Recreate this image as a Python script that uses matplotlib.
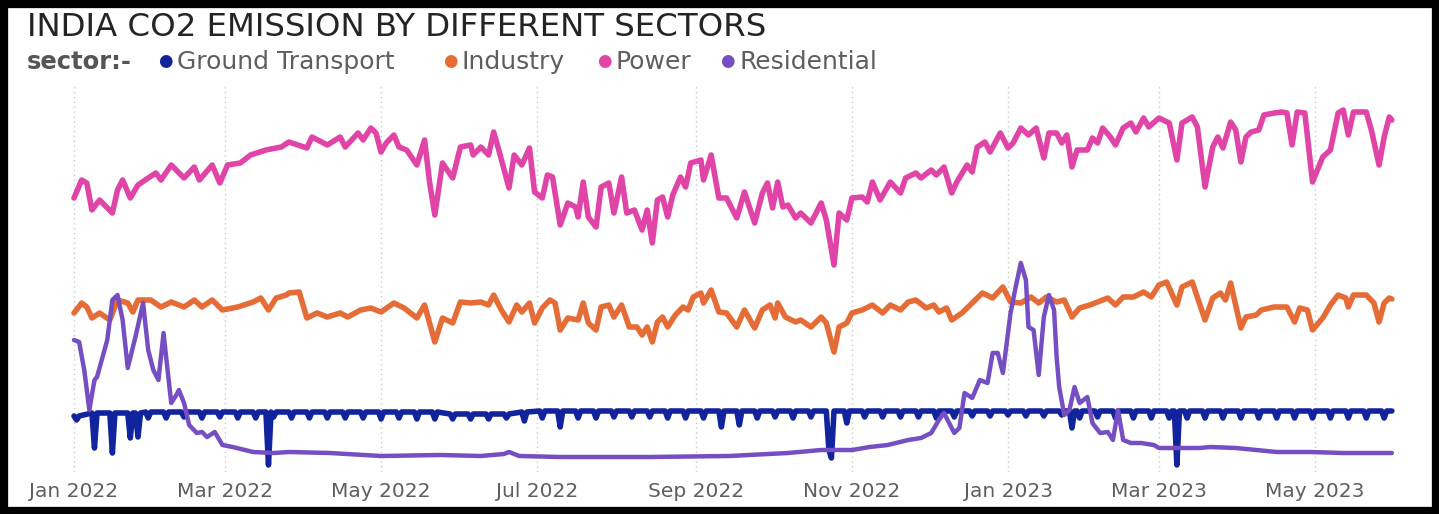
import numpy as np
import pandas as pd
import matplotlib
matplotlib.use("Agg")
import matplotlib.pyplot as plt
import matplotlib.dates as mdates
from matplotlib.patches import Rectangle

# ── Data (MtCO2 per day) ──────────────────────────────────────────────────
# days are offsets from 1 Jan 2022
START = pd.Timestamp("2022-01-01")

power_day = [0, 3, 5, 7, 10, 15, 17, 19, 22, 25, 29, 32, 34, 38, 43, 47, 49, 54, 57, 60, 65, 69, 75,
             81, 84, 91, 93, 99, 104, 106, 111, 113, 116, 118, 120, 122, 125, 127, 130, 134, 137, 139,
             141, 144, 148, 151, 155, 156, 159, 162, 164, 166, 170,
             172, 175, 178, 180, 183, 185, 187, 190, 193, 196, 197, 199, 201, 204, 206, 209, 211, 214,
             216, 219, 222, 224, 226, 228, 230, 232, 234, 237, 239, 241, 245, 246, 249, 252,
             255, 259, 262, 266, 269, 271, 273, 275, 277, 279, 282, 284, 288, 292, 294, 297, 299, 302,
             304, 308, 310, 312, 315, 319, 323, 325, 329, 331, 335, 337, 340,
             343, 345, 349, 351, 353, 356, 358, 362, 365, 367, 370, 373, 376, 379, 381, 384, 386, 388,
             390, 392, 396, 398, 400, 402, 405, 407, 410, 413, 415, 418, 420, 424,
             428, 431, 433, 437, 439, 442, 445, 447, 449, 452, 454, 456, 458, 460, 463, 465, 469, 472,
             474, 476, 478, 481, 484, 488, 491, 494, 496, 498, 500, 505, 507, 510, 512, 514, 515]
power = [2.82, 3.00, 2.97, 2.70, 2.80, 2.67, 2.90, 3.00, 2.82, 2.95, 3.02, 3.07, 3.00, 3.15, 3.02, 3.13,
         3.00, 3.15, 2.97, 3.15, 3.17, 3.25, 3.30,
         3.33, 3.38, 3.32, 3.43, 3.35, 3.43, 3.33, 3.47, 3.40, 3.52, 3.47, 3.28, 3.37, 3.45, 3.33, 3.30,
         3.15, 3.40, 2.97, 2.65, 3.17, 3.02, 3.33, 3.35, 3.25, 3.33, 3.25, 3.48, 3.30, 2.92,
         3.25, 3.15, 3.32, 2.88, 2.82, 3.05, 3.03, 2.55, 2.77, 2.73, 2.63, 2.98, 2.63, 2.53, 2.93, 2.97,
         2.67, 3.03, 2.67, 2.70, 2.50, 2.70, 2.37, 2.80, 2.83, 2.63, 2.85, 3.03, 2.93, 3.17, 3.20, 3.00,
         3.25, 2.82,
         2.82, 2.62, 2.88, 2.57, 2.87, 2.97, 2.72, 2.98, 2.73, 2.75, 2.62, 2.67, 2.57, 2.77, 2.60, 2.15,
         2.67, 2.60, 2.82, 2.83, 2.78, 2.98, 2.80, 2.98, 2.87, 3.02, 3.07, 3.02, 3.10, 3.05, 3.13,
         2.87, 2.98, 3.15, 3.08, 3.33, 3.38, 3.28, 3.47, 3.32, 3.37, 3.52, 3.45, 3.52, 3.22, 3.47, 3.47,
         3.37, 3.45, 3.13, 3.30, 3.30, 3.42, 3.37, 3.52, 3.43, 3.35, 3.52, 3.57, 3.48, 3.62, 3.53, 3.62,
         3.57, 3.20, 3.57, 3.63, 3.53, 2.93, 3.33, 3.43, 3.32, 3.58, 3.50, 3.18, 3.43, 3.48, 3.50, 3.65,
         3.67, 3.68, 3.67, 3.35, 3.68, 3.67, 2.98, 3.23, 3.30, 3.67, 3.70, 3.45, 3.68, 3.68, 3.50, 3.15,
         3.43, 3.63, 3.60]

industry_day = [0, 3, 5, 7, 10, 14, 17, 21, 23, 25, 30, 34, 38, 43, 47, 50, 54, 58, 64, 70, 73, 76, 79, 83,
                84, 88, 91, 95, 99, 104, 107, 112, 116, 120, 125, 129, 134, 137, 141, 144, 148, 151, 155,
                159, 162, 164, 167, 170,
                173, 175, 178, 180, 183, 186, 188, 190, 193, 197, 199, 201, 204, 206, 209, 211, 214, 217,
                220, 222, 224, 226, 228, 230, 232, 235, 238, 240, 242, 245, 246, 249, 252,
                255, 259, 262, 266, 269, 272, 274, 275, 278, 282, 284, 288, 292, 294, 297, 299, 302, 304,
                308, 312, 316, 319, 323, 326, 329, 333, 336, 338,
                341, 343, 347, 351, 355, 359, 363, 366, 370, 374, 377, 380, 384, 387, 390, 393, 397, 400,
                404, 407, 410, 414, 418, 421, 424,
                427, 431, 433, 437, 442, 445, 448, 450, 452, 456, 458, 462, 464, 469, 474, 477, 479, 482,
                484, 488, 491, 494, 497, 498, 500, 505, 508, 510, 512, 514, 515]
industry = [1.67, 1.77, 1.73, 1.62, 1.67, 1.60, 1.80, 1.77, 1.68, 1.80, 1.80, 1.73, 1.78, 1.73, 1.80, 1.73,
            1.80, 1.70, 1.73, 1.78, 1.82, 1.70, 1.82, 1.85,
            1.87, 1.88, 1.62, 1.67, 1.63, 1.67, 1.63, 1.70, 1.72, 1.68, 1.77, 1.72, 1.62, 1.75, 1.38, 1.62,
            1.57, 1.78, 1.77, 1.78, 1.75, 1.85, 1.70, 1.58,
            1.75, 1.68, 1.77, 1.57, 1.72, 1.80, 1.77, 1.50, 1.62, 1.60, 1.77, 1.57, 1.50, 1.73, 1.75, 1.63,
            1.75, 1.53, 1.53, 1.45, 1.53, 1.38, 1.58, 1.63, 1.53, 1.65, 1.73, 1.70, 1.83, 1.87, 1.77, 1.90,
            1.68,
            1.67, 1.53, 1.70, 1.52, 1.70, 1.75, 1.62, 1.77, 1.63, 1.58, 1.60, 1.53, 1.63, 1.57, 1.28, 1.53,
            1.57, 1.67, 1.70, 1.75, 1.67, 1.75, 1.70, 1.78, 1.80, 1.72, 1.75, 1.68,
            1.72, 1.60, 1.67, 1.77, 1.87, 1.82, 1.93, 1.78, 1.77, 1.83, 1.77, 1.83, 1.78, 1.80, 1.63, 1.72,
            1.75, 1.78, 1.82, 1.75, 1.83, 1.83, 1.88, 1.83, 1.95,
            1.98, 1.75, 1.93, 1.98, 1.60, 1.82, 1.87, 1.80, 1.97, 1.52, 1.63, 1.65, 1.70, 1.73, 1.73, 1.58,
            1.72, 1.70, 1.50, 1.62, 1.75, 1.85, 1.82, 1.73, 1.85, 1.85, 1.77, 1.58, 1.77, 1.82, 1.81]

residential_day = [0, 2, 4, 6, 8, 9, 13, 15, 17, 19, 21, 24, 27, 29, 31, 33, 35, 36, 38, 40, 41, 43, 45,
                   48, 50, 52, 55, 58, 62, 70, 78, 84,
                   100, 120, 143, 159, 168, 170, 174, 190, 225, 256, 279, 292, 304, 311, 318, 326, 331, 335,
                   338, 340, 342, 344, 346, 348, 351, 354, 357, 359, 361, 363, 366, 368, 370, 372, 373, 375,
                   377, 379, 381, 383, 384, 385, 387, 389, 391, 393, 396, 398, 401, 404, 406, 408, 410, 413,
                   417, 422, 424,
                   440, 444, 454, 470, 483, 496, 515]
residential = [1.40, 1.38, 1.10, 0.70, 1.00, 1.03, 1.40, 1.80, 1.85, 1.60, 1.12, 1.43, 1.77, 1.30, 1.10,
               1.00, 1.47, 1.23, 0.77, 0.85, 0.90, 0.77, 0.55, 0.47, 0.48, 0.43, 0.48, 0.35, 0.33, 0.28,
               0.27, 0.28,
               0.27, 0.24, 0.25, 0.24, 0.26, 0.28, 0.24, 0.23, 0.23, 0.24, 0.27, 0.30, 0.30, 0.33, 0.35,
               0.40, 0.42, 0.47,
               0.60, 0.67, 0.57, 0.47, 0.52, 0.87, 0.82, 1.00, 0.97, 1.27, 1.27, 1.07, 1.67, 1.93, 2.17,
               2.00, 1.53, 1.50, 1.05, 1.63, 1.85, 1.70, 1.23, 0.93, 0.65, 0.70, 0.93, 0.77, 0.83, 0.57,
               0.47, 0.48, 0.40, 0.70, 0.40, 0.37, 0.37, 0.35, 0.32,
               0.32, 0.33, 0.32, 0.28, 0.28, 0.27, 0.27]

# ground transport: weekday level and Sunday value for each of the 74 weeks
transport_weekday = [0.64, 0.67, 0.67, 0.67, 0.68, 0.68, 0.68, 0.68, 0.68, 0.68,
                     0.68, 0.68, 0.68, 0.68, 0.68, 0.68, 0.68, 0.68, 0.68, 0.68,
                     0.68, 0.66, 0.66, 0.66, 0.66, 0.68, 0.69, 0.69, 0.69, 0.69,
                     0.69, 0.69, 0.69, 0.69, 0.69, 0.69, 0.69, 0.69, 0.69, 0.69,
                     0.69, 0.69, 0.69, 0.69, 0.69, 0.69, 0.69, 0.69, 0.69, 0.69,
                     0.69, 0.69, 0.69, 0.69, 0.69, 0.69, 0.69, 0.69, 0.69, 0.69,
                     0.69, 0.69, 0.69, 0.69, 0.69, 0.69, 0.69, 0.69, 0.69, 0.69,
                     0.69, 0.69, 0.69, 0.69]
transport_sunday = [0.60, 0.32, 0.27, 0.42, 0.62, 0.62, 0.63, 0.62, 0.63, 0.62,
                    0.62, 0.63, 0.62, 0.62, 0.62, 0.62, 0.62, 0.61, 0.62, 0.61,
                    0.61, 0.61, 0.61, 0.61, 0.62, 0.59, 0.62, 0.53, 0.62, 0.62,
                    0.63, 0.63, 0.63, 0.62, 0.62, 0.62, 0.53, 0.55, 0.62, 0.63,
                    0.62, 0.63, 0.30, 0.57, 0.63, 0.63, 0.63, 0.63, 0.62, 0.63,
                    0.64, 0.64, 0.65, 0.64, 0.64, 0.65, 0.62, 0.63, 0.62, 0.62,
                    0.62, 0.62, 0.62, 0.62, 0.62, 0.62, 0.62, 0.62, 0.62, 0.62,
                    0.62, 0.62, 0.62, 0.62]
# public-holiday dips (26 Jan, Holi, Diwali, 26 Jan, Holi)
holiday_day = [25, 76, 296, 390, 431]
holiday_val = [0.43, 0.15, 0.22, 0.52, 0.15]

sectors = ["Ground Transport", "Industry", "Power", "Residential"]
colors = ["#12239E", "#E66C37", "#E044A7", "#744EC2"]
tick_dates = pd.to_datetime(["2022-01-01", "2022-03-01", "2022-05-01", "2022-07-01",
                             "2022-09-01", "2022-11-01", "2023-01-01", "2023-03-01",
                             "2023-05-01"])
tick_labels = ["Jan 2022", "Mar 2022", "May 2022", "Jul 2022", "Sep 2022",
               "Nov 2022", "Jan 2023", "Mar 2023", "May 2023"]

# ── Build the transport polyline (Sundays fall on day 1 + 7k) ────────────
pts = {}
for k, (wd, su) in enumerate(zip(transport_weekday, transport_sunday)):
    s = 1 + 7 * k
    pts.setdefault(s - 1, wd)
    pts[s] = su
    pts[s + 1] = wd
pts[515] = transport_weekday[-1]
for d, v in zip(holiday_day, holiday_val):
    lvl = transport_weekday[min(d // 7, len(transport_weekday) - 1)]
    pts.setdefault(d - 1, lvl)
    pts[d] = v
    pts.setdefault(d + 1, lvl)
transport_day = sorted(pts)
ground_transport = [pts[d] for d in transport_day]

# ── Figure ────────────────────────────────────────────────────────────────
W, H = 1439, 514
fig = plt.figure(figsize=(W / 100, H / 100), dpi=100)
fig.patch.set_facecolor("white")

# axes box in pixels: x 60..1405, y 85..472
ax_l, ax_r, ax_t, ax_b = 60, 1405, 85, 472
ax = fig.add_axes([ax_l / W, 1 - ax_b / H, (ax_r - ax_l) / W, (ax_b - ax_t) / H])

series = [(transport_day, ground_transport), (industry_day, industry),
          (power_day, power), (residential_day, residential)]
for (days, vals), col, name in zip(series, colors, sectors):
    assert len(days) == len(vals), name
    x = START + pd.to_timedelta(days, unit="D")
    lw = 3.2 if name == "Residential" else 4.0
    ax.plot(x, vals, color=col, lw=lw, solid_joinstyle="round",
            solid_capstyle="round", zorder=3)

# x scale: Jan 1 2022 at px 74, 2.559 px per day
px_day = (1008 - 74) / 365
x0 = mdates.date2num(START)
ax.set_xlim(x0 - (74 - ax_l) / px_day, x0 + (ax_r - 74) / px_day)
ax.set_ylim(4.80 - ax_b / 100, 4.80 - ax_t / 100)

ax.set_xticks(tick_dates)
ax.set_xticklabels(tick_labels, fontsize=14.5, color="#605E5C")
ax.tick_params(axis="x", length=0, pad=7)
ax.set_yticks([])
ax.grid(axis="x", color="#C8C8C8", linestyle=(0, (1, 2.5)), linewidth=1)
for s in ax.spines.values():
    s.set_visible(False)

# ── Title and legend ──────────────────────────────────────────────────────
fig.text(27 / W, 1 - 28 / H, "INDIA CO2 EMISSION BY DIFFERENT SECTORS",
         fontsize=23.3, color="#252423", va="center", ha="left")
fig.text(27 / W, 1 - 62 / H, "sector:-", fontsize=17.5, fontweight="bold",
         color="#555555", va="center", ha="left")
leg_x = [165, 450, 604, 727]
for lx, name, col in zip(leg_x, sectors, colors):
    fig.text(lx / W, 1 - 61 / H, "\u25CF", fontsize=12, color=col,
             va="center", ha="center")
    fig.text((lx + 12) / W, 1 - 62 / H, name, fontsize=18, color="#605E5C",
             va="center", ha="left")

# black frame
fig.patches.append(Rectangle((0, 0), 1, 1, transform=fig.transFigure,
                             fill=False, ec="black", lw=11))

fig.savefig("out.png", dpi=100)
